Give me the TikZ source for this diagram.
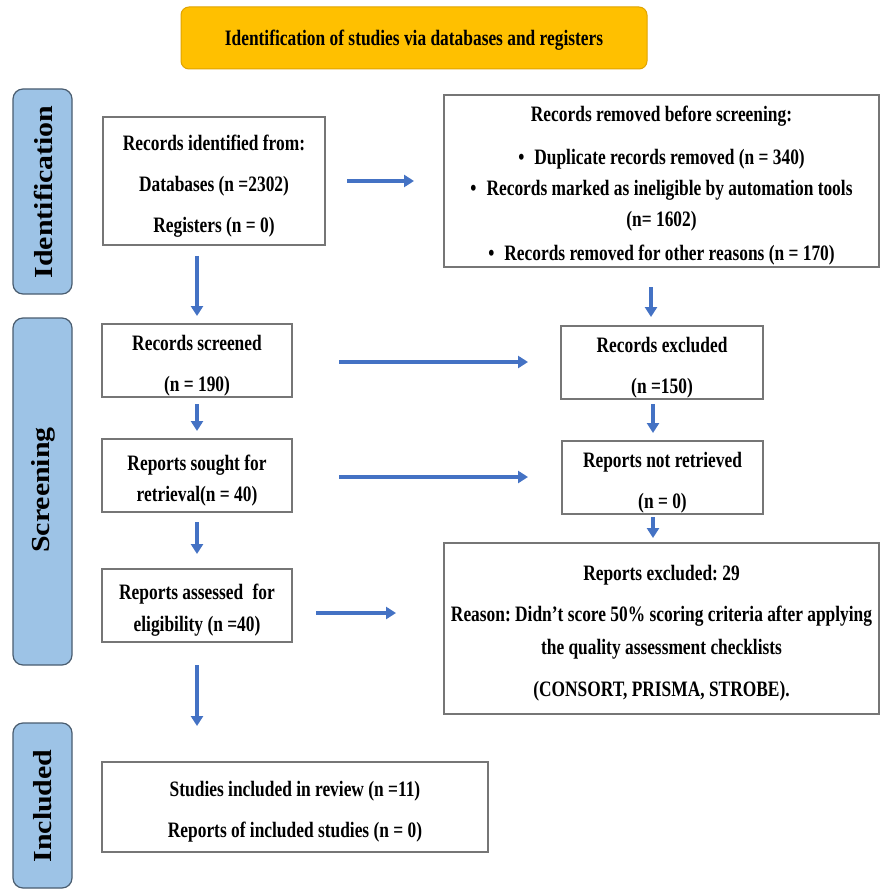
\documentclass[tikz,border=0pt]{standalone}
\usepackage{fontspec}
\setmainfont{Liberation Serif}
\newfontfamily\boxfnt{Liberation Serif}[FakeStretch=0.79]
\newfontfamily\titlefnt{Liberation Serif}[FakeStretch=0.79]
\newfontfamily\sidefnt{Liberation Serif}[FakeStretch=1.15]
\newcommand\myboxfont[1]{\boxfnt\bfseries\fontsize{22}{#1}\selectfont\frenchspacing}
\usetikzlibrary{arrows.meta}
\definecolor{arrowblue}{HTML}{4472C4}
\definecolor{boxgray}{HTML}{767676}
\definecolor{sidefill}{HTML}{9DC3E6}
\definecolor{sideborder}{HTML}{4A5D70}
\definecolor{titlefill}{HTML}{FFC000}
\definecolor{titleborder}{HTML}{E0A400}
\tikzset{
  flowbox/.style={draw=boxgray, line width=1.2pt, fill=white, inner sep=0pt},
  boxtext/.style={inner sep=0pt, align=center, font=\myboxfont{41}},
  sidebar/.style={draw=sideborder, line width=1.2pt, fill=sidefill,
    rounded corners=10pt, inner sep=0pt},
  sidelabel/.style={rotate=90, inner sep=0pt, font=\sidefnt\bfseries\fontsize{26}{30}\selectfont},
  titlebox/.style={draw=titleborder, line width=1pt, fill=titlefill,
    rounded corners=8pt, inner sep=0pt,
    font=\titlefnt\bfseries\fontsize{22}{26}\selectfont},
  flowarrow/.style={draw=arrowblue, line width=3.2pt,
    -{Triangle[length=10pt,width=12pt]}}
}
\begin{document}
\begin{tikzpicture}[x=1pt,y=-1pt]
\useasboundingbox (0,0) rectangle (880,890);
\fill[white] (0,0) rectangle (880,890);

% title
\node[titlebox, minimum width=466pt, minimum height=62pt] (title) at (414,38) {};
\node[inner sep=0pt, font=\titlefnt\bfseries\fontsize{22}{26}\selectfont] (titletxt)
  at ([yshift=-2pt]title.center) {Identification of studies via databases and registers};

% side bars
\node[sidebar, minimum width=59pt, minimum height=205pt] (barid) at (42.5,191.5) {};
\node[sidelabel] (labid) at (43,192) {Identification};
\node[sidebar, minimum width=59pt, minimum height=347pt] (barsc) at (42.5,491.5) {};
\node[sidelabel] (labsc) at (43,490) {Screening};
\node[sidebar, minimum width=59pt, minimum height=165pt] (barin) at (42.5,805.5) {};
\node[sidelabel] (labin) at (43,806) {Included};

% boxes
\node[flowbox, minimum width=222pt, minimum height=128pt] (rid) at (214,181) {};
\node[boxtext] (ridtxt) at ([yshift=-5pt]rid.center)
  {Records identified from:\\ Databases (n =2302)\\ Registers (n = 0)};

\node[flowbox, minimum width=435pt, minimum height=172pt] (rem) at (661.5,181) {};
\node[boxtext, font=\myboxfont{31}] (remtxt) at ([yshift=-5pt]rem.center)
  {Records removed before screening:\\[12pt]
   \textbullet\hspace{10pt}Duplicate records removed (n = 340)\\
   \textbullet\hspace{10pt}Records marked as ineligible by automation tools\\
   (n= 1602)\\[3pt]
   \textbullet\hspace{10pt}Records removed for other reasons (n = 170)};

\node[flowbox, minimum width=190pt, minimum height=73pt] (scr) at (197,360.5) {};
\node[boxtext] (scrtxt) at ([yshift=-5pt]scr.center) {Records screened\\ (n = 190)};

\node[flowbox, minimum width=202pt, minimum height=73pt] (exc) at (662,362.5) {};
\node[boxtext] (exctxt) at ([yshift=-5pt]exc.center) {Records excluded\\ (n =150)};

\node[flowbox, minimum width=190pt, minimum height=73pt] (sou) at (197,475.5) {};
\node[boxtext, font=\myboxfont{31}] (soutxt) at ([yshift=-5pt]sou.center)
  {Reports sought for\\ retrieval(n = 40)};

\node[flowbox, minimum width=201pt, minimum height=73pt] (nre) at (662.5,477.5) {};
\node[boxtext] (nretxt) at ([yshift=-5pt]nre.center) {Reports not retrieved\\ (n = 0)};

\node[flowbox, minimum width=190pt, minimum height=73pt] (ass) at (197,605.5) {};
\node[boxtext, font=\myboxfont{32}] (asstxt) at ([yshift=-5pt]ass.center)
  {Reports assessed\hspace{5pt} for\\ eligibility (n =40)};

\node[flowbox, minimum width=435pt, minimum height=171pt] (rex) at (661.5,628.5) {};
\node[boxtext, font=\myboxfont{33}] (rextxt) at ([yshift=-5pt]rex.center)
  {Reports excluded: 29\\[8pt]
   Reason: Didn’t score 50\% scoring criteria after applying\\
   the quality assessment checklists\\[9pt]
   (CONSORT, PRISMA, STROBE).};

\node[flowbox, minimum width=386pt, minimum height=90pt] (inc) at (295,807) {};
\node[boxtext] (inctxt) at ([yshift=-5pt]inc.center)
  {Studies included in review (n =11)\\ Reports of included studies (n = 0)};

% arrow end points
\coordinate (a1s) at (347,181);  \coordinate (a1e) at (414,181);
\coordinate (a2s) at (197,256);  \coordinate (a2e) at (197,316);
\coordinate (a3s) at (651,287);  \coordinate (a3e) at (651,317);
\coordinate (a4s) at (339,362);  \coordinate (a4e) at (528,362);
\coordinate (a5s) at (197,404);  \coordinate (a5e) at (197,431);
\coordinate (a6s) at (653,404);  \coordinate (a6e) at (653,433);
\coordinate (a7s) at (339,477);  \coordinate (a7e) at (528,477);
\coordinate (a8s) at (197,522);  \coordinate (a8e) at (197,554);
\coordinate (a9s) at (653,517);  \coordinate (a9e) at (653,538);
\coordinate (a10s) at (316,613); \coordinate (a10e) at (396,613);
\coordinate (a11s) at (197,665); \coordinate (a11e) at (197,726);

\draw[flowarrow] (a1s) -- (a1e);
\draw[flowarrow] (a2s) -- (a2e);
\draw[flowarrow] (a3s) -- (a3e);
\draw[flowarrow] (a4s) -- (a4e);
\draw[flowarrow] (a5s) -- (a5e);
\draw[flowarrow] (a6s) -- (a6e);
\draw[flowarrow] (a7s) -- (a7e);
\draw[flowarrow] (a8s) -- (a8e);
\draw[flowarrow] (a9s) -- (a9e);
\draw[flowarrow] (a10s) -- (a10e);
\draw[flowarrow] (a11s) -- (a11e);
\end{tikzpicture}
\end{document}
